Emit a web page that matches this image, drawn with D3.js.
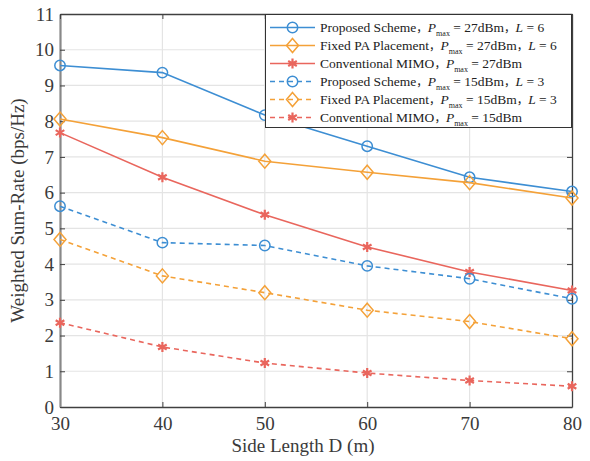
<!DOCTYPE html>
<html><head><meta charset="utf-8">
<script src="https://cdn.jsdelivr.net/npm/d3@7"></script>
<style>body{margin:0;background:#fff}svg{display:block}</style>
</head><body><svg id="c" width="590" height="461"></svg>
<script>
const xValues = [30, 40, 50, 60, 70, 80];
const proposed27 = [9.56, 9.36, 8.17, 7.30, 6.43, 6.03];
const fixed27 = [8.06, 7.54, 6.88, 6.57, 6.28, 5.85];
const conv27 = [7.68, 6.43, 5.38, 4.48, 3.78, 3.26];
const proposed15 = [5.62, 4.60, 4.52, 3.95, 3.59, 3.03];
const fixed15 = [4.69, 3.67, 3.20, 2.71, 2.39, 1.91];
const conv15 = [2.36, 1.68, 1.23, 0.95, 0.74, 0.58];
const yTicks = [0,1,2,3,4,5,6,7,8,9,10,11];
const xTicks = [30,40,50,60,70,80];

const FONT = "'Liberation Serif', 'Times New Roman', serif";
const CJK = "'Noto Sans CJK SC', 'Liberation Serif', serif";
const blue = "#3d8ed3", orange = "#f4a138", red = "#e9665d";
const series = [
  {name:"Proposed Scheme", p:"27dBm", L:"6", data:proposed27, color:blue, marker:"circle", dash:null},
  {name:"Fixed PA Placement", p:"27dBm", L:"6", data:fixed27, color:orange, marker:"diamond", dash:null},
  {name:"Conventional MIMO", p:"27dBm", L:null, data:conv27, color:red, marker:"star", dash:null},
  {name:"Proposed Scheme", p:"15dBm", L:"3", data:proposed15, color:blue, marker:"circle", dash:"5,4"},
  {name:"Fixed PA Placement", p:"15dBm", L:"3", data:fixed15, color:orange, marker:"diamond", dash:"5,4"},
  {name:"Conventional MIMO", p:"15dBm", L:null, data:conv15, color:red, marker:"star", dash:"5,4"}
];

const svg = d3.select("#c");
const L = 60, R = 572, T = 14, B = 407;
const x = d3.scaleLinear().domain([30,80]).range([L,R]);
const y = d3.scaleLinear().domain([0,11]).range([B,T]);

// grid
svg.append("g").selectAll("line").data(yTicks.slice(1,-1)).join("line")
  .attr("x1",L).attr("x2",R).attr("y1",d=>y(d)).attr("y2",d=>y(d))
  .attr("stroke","#e4e4e4").attr("stroke-width",1.2);
svg.append("g").selectAll("line").data(xTicks.slice(1,-1)).join("line")
  .attr("y1",T).attr("y2",B).attr("x1",d=>x(d)).attr("x2",d=>x(d))
  .attr("stroke","#e4e4e4").attr("stroke-width",1.2);

// axes
const ax = svg.append("g").attr("transform",`translate(0,${B})`)
  .call(d3.axisBottom(x).tickValues(xTicks).tickSizeInner(-5).tickSizeOuter(0).tickPadding(10));
const ay = svg.append("g").attr("transform",`translate(${L},0)`)
  .call(d3.axisLeft(y).tickValues(yTicks).tickSizeInner(-5).tickSizeOuter(0).tickPadding(6));
svg.append("g").attr("transform",`translate(0,${T})`)
  .call(d3.axisTop(x).tickValues(xTicks).tickSizeInner(-5).tickSizeOuter(0).tickFormat(""));
svg.append("g").attr("transform",`translate(${R},0)`)
  .call(d3.axisRight(y).tickValues(yTicks).tickSizeInner(-5).tickSizeOuter(0).tickFormat(""));
svg.selectAll(".domain").attr("stroke","#404040").attr("stroke-width",1.3);
svg.selectAll(".tick line").attr("stroke","#404040");
ay.select(".domain").attr("stroke","#888").attr("stroke-width",2.2);
svg.selectAll("g").attr("font-family",null);
ax.selectAll("text").style("font-size","19px").style("font-family",FONT).attr("fill","#3a3a3a");
ay.selectAll("text").style("font-size","19px").style("font-family",FONT).attr("fill","#3a3a3a");

svg.append("text").attr("x",(L+R)/2 - 13).attr("y",452).attr("text-anchor","middle")
  .style("font-family",FONT).style("font-size","19px").attr("fill","#3a3a3a").text("Side Length D (m)");
svg.append("text").attr("transform",`translate(24,${(T+B)/2}) rotate(-90)`).attr("text-anchor","middle")
  .style("font-family",FONT).style("font-size","19px").attr("fill","#3a3a3a").text("Weighted Sum-Rate (bps/Hz)");

const star = d3.symbol().type(d3.symbolAsterisk).size(70);
function drawMarker(g, type, color, cx, cy){
  if(type==="circle") g.append("circle").attr("cx",cx).attr("cy",cy).attr("r",5.2)
    .attr("fill","none").attr("stroke",color).attr("stroke-width",1.5);
  else if(type==="diamond") g.append("path").attr("d",`M${cx},${cy-7}L${cx+6},${cy}L${cx},${cy+7}L${cx-6},${cy}Z`)
    .attr("fill","none").attr("stroke",color).attr("stroke-width",1.5);
  else g.append("path").attr("d",star()).attr("transform",`translate(${cx},${cy})`)
    .attr("fill","none").attr("stroke",color).attr("stroke-width",2.2);
}

const line = d3.line().x((d,i)=>x(xValues[i])).y(d=>y(d));
series.forEach(s=>{
  const g = svg.append("g");
  g.append("path").attr("d",line(s.data)).attr("fill","none").attr("stroke",s.color)
    .attr("stroke-width",1.6).attr("stroke-dasharray",s.dash);
  s.data.forEach((v,i)=>drawMarker(g,s.marker,s.color,x(xValues[i]),y(v)));
});

// legend
const lg = svg.append("g");
lg.append("rect").attr("x",265.5).attr("y",14.5).attr("width",306).attr("height",113)
  .attr("fill","#fff").attr("stroke","#333").attr("stroke-width",1);
series.forEach((s,i)=>{
  const cy = 27.5 + i*18;
  lg.append("line").attr("x1",270).attr("x2",315).attr("y1",cy).attr("y2",cy)
    .attr("stroke",s.color).attr("stroke-width",1.6).attr("stroke-dasharray",s.dash);
  drawMarker(lg,s.marker,s.color,292.5,cy);
  const t = lg.append("text").attr("x",320).attr("y",cy+4.5)
    .style("font-family",FONT).style("font-size","13.5px").attr("fill","#222");
  t.append("tspan").text(s.name);
  t.append("tspan").style("font-family",CJK).style("font-size","11.5px").text("，");
  t.append("tspan").attr("font-style","italic").text("P");
  t.append("tspan").style("font-size","8px").attr("dy",3.5).text("max");
  t.append("tspan").attr("dy",-3.5).text(" = "+s.p);
  if(s.L){
    t.append("tspan").style("font-family",CJK).style("font-size","11.5px").text("，");
    t.append("tspan").attr("font-style","italic").text("L");
    t.append("tspan").text(" = "+s.L);
  }
});
</script></body></html>
